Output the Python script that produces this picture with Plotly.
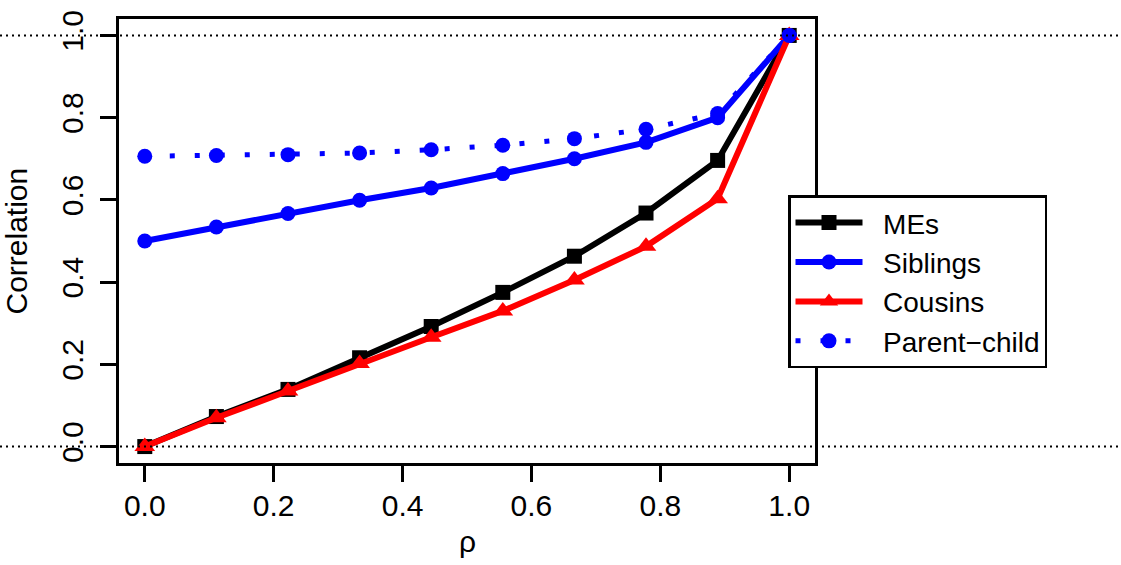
import plotly.graph_objects as go

rho = [0, 1/9, 2/9, 3/9, 4/9, 5/9, 6/9, 7/9, 8/9, 1]
mes = [0.0, 0.073, 0.139, 0.216, 0.292, 0.375, 0.463, 0.568, 0.696, 1.0]
siblings = [0.5, 0.534, 0.567, 0.599, 0.629, 0.664, 0.700, 0.740, 0.800, 1.0]
cousins = [0.0, 0.070, 0.135, 0.202, 0.266, 0.330, 0.405, 0.487, 0.603, 1.0]
parent_child = [0.706, 0.708, 0.710, 0.714, 0.722, 0.733, 0.749, 0.772, 0.810, 1.0]

series_names = ["MEs", "Siblings", "Cousins", "Parent\u2212child"]
x_ticks = [0.0, 0.2, 0.4, 0.6, 0.8, 1.0]
y_ticks = [0.0, 0.2, 0.4, 0.6, 0.8, 1.0]
ref_lines = [0.0, 1.0]

FONT = "Liberation Sans, Arial, sans-serif"
FS = 30
LFS = 28
xr = [-0.04, 1.04]
yr = [-0.04, 1.04]
PAD = "\u00a0\u00a0"

fig = go.Figure()
fig.add_trace(go.Scatter(x=rho, y=mes, name=PAD + series_names[0], mode="lines+markers",
                         line=dict(color="black", width=6),
                         marker=dict(symbol="square", size=15, color="black")))
fig.add_trace(go.Scatter(x=rho, y=siblings, name=PAD + series_names[1], mode="lines+markers",
                         line=dict(color="#0000ff", width=6),
                         marker=dict(symbol="circle", size=15, color="#0000ff")))
fig.add_trace(go.Scatter(x=rho, y=cousins, name=PAD + series_names[2], mode="lines+markers",
                         line=dict(color="#ff0000", width=6),
                         marker=dict(symbol="triangle-up", size=18, color="#ff0000")))
fig.add_trace(go.Scatter(x=rho, y=parent_child, name=PAD + series_names[3], mode="lines+markers",
                         line=dict(color="#0000ff", width=5, dash="5px,20px"),
                         marker=dict(symbol="circle", size=15, color="#0000ff")))

L, R, T, B = 119, 306, 10, 102
W, H = 1121, 565
pw = W - L - R
ph = H - T - B
for v in ref_lines:
    yp = (v - yr[0]) / (yr[1] - yr[0])
    fig.add_shape(type="line", xref="paper", yref="paper",
                  x0=-L / pw, x1=(W - L) / pw, y0=yp, y1=yp,
                  line=dict(color="black", width=2, dash="2px,4px"), layer="above")

axis_common = dict(showline=True, linecolor="black", linewidth=2.5, mirror=True,
                   ticks="outside", ticklen=16, tickwidth=2.5, tickcolor="black",
                   showgrid=False, zeroline=False,
                   tickfont=dict(family=FONT, size=FS, color="black"))
fig.update_xaxes(range=xr, tickvals=x_ticks, ticktext=[f"{t:.1f}" for t in x_ticks],
                 ticklabelstandoff=-2, **axis_common)
fig.update_yaxes(range=yr, tickvals=y_ticks, ticktext=[f"{t:.1f}" for t in y_ticks],
                 tickangle=-90, ticklabelstandoff=5, **axis_common)

fig.add_annotation(text="\u03c1", xref="paper", yref="paper", x=0.5, y=(0 - 80) / ph,
                   showarrow=False, font=dict(family=FONT, size=FS, color="black"),
                   xanchor="center", yanchor="middle")
fig.add_annotation(text="Correlation", xref="paper", yref="paper", x=(16 - L) / pw, y=(463 - 237) / ph,
                   showarrow=False, textangle=-90, font=dict(family=FONT, size=FS, color="black"),
                   xanchor="center", yanchor="middle")

fig.update_layout(
    width=W, height=H,
    margin=dict(l=L, r=R, t=T, b=B, pad=0),
    plot_bgcolor="white", paper_bgcolor="white",
    showlegend=True,
    legend=dict(x=(788 - L) / pw, y=(463 - 190) / ph, xanchor="left", yanchor="top",
                bgcolor="white", bordercolor="black", borderwidth=2.5,
                font=dict(family=FONT, size=LFS, color="black"),
                itemwidth=67, tracegroupgap=0),
)

fig.write_html("out.html", config={"displayModeBar": False},
               post_script="document.body.style.margin='0px';")
